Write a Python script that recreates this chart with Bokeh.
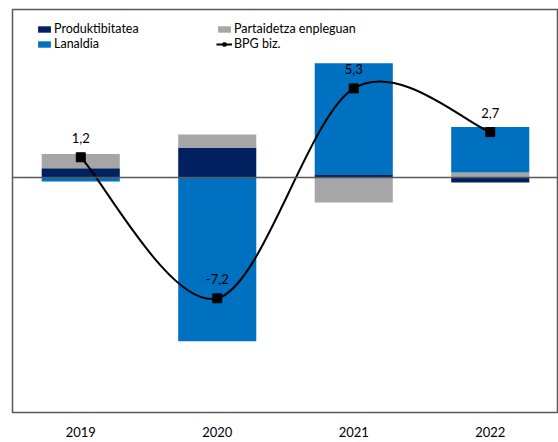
import numpy as np
from bokeh.plotting import figure
from bokeh.models import (ColumnDataSource, Legend, LegendItem, Span, FixedTicker, Range1d)
from bokeh.core.properties import value
from bokeh.embed import file_html
from bokeh.resources import INLINE

# ---- data ----
years = ["2019", "2020", "2021", "2022"]
produktibitatea = [0.55, 1.75, 0.15, -0.3]
partaidetza = [0.85, 0.8, -1.5, 0.3]
lanaldia = [-0.25, -9.75, 6.65, 2.7]
bpg = [1.2, -7.2, 5.3, 2.7]

series_names = ["Produktibitatea", "Partaidetza enpleguan", "Lanaldia"]
series_values = [produktibitatea, partaidetza, lanaldia]
colors = ["#002060", "#A6A6A6", "#0070C0"]

FONT = "Lato"

xpos = np.arange(len(years)) + 0.5

p = figure(width=558, height=442, output_backend="svg", toolbar_location=None,
           x_range=Range1d(0, len(years)), y_range=Range1d(-14, 10),
           min_border_left=12, min_border_right=0, min_border_top=9, min_border_bottom=30)
p.background_fill_color = "white"
p.border_fill_color = "white"
p.outline_line_color = "#595959"
p.outline_line_width = 1.5
p.xgrid.visible = False
p.ygrid.visible = False
p.yaxis.visible = False

# stacked bars (positive and negative stacked separately)
pos_cum = np.zeros(len(years))
neg_cum = np.zeros(len(years))
bar_renderers = []
for name, vals, col in zip(series_names, series_values, colors):
    v = np.array(vals, dtype=float)
    bottom = np.where(v >= 0, pos_cum, neg_cum)
    top = bottom + v
    pos_cum = np.where(v >= 0, top, pos_cum)
    neg_cum = np.where(v < 0, top, neg_cum)
    src = ColumnDataSource(dict(x=xpos, top=top, bottom=bottom))
    r = p.vbar(x="x", top="top", bottom="bottom", width=0.572, source=src,
               fill_color=col, line_color=None)
    bar_renderers.append(r)

# zero line
p.add_layout(Span(location=0, dimension="width", line_color="#595959", line_width=1.5))

# smoothed line via bezier segments (Excel-like smoothing)
P = np.column_stack([xpos, np.array(bpg, dtype=float)])
n = len(P)
x0s, y0s, x1s, y1s, cx0, cy0, cx1, cy1 = ([] for _ in range(8))
for i in range(n - 1):
    prev = P[i - 1] if i > 0 else P[i]
    nxt = P[i + 2] if i + 2 < n else P[i + 1]
    c0 = P[i] + (P[i + 1] - prev) / 6.0
    c1 = P[i + 1] - (nxt - P[i]) / 6.0
    x0s.append(P[i][0]); y0s.append(P[i][1])
    x1s.append(P[i + 1][0]); y1s.append(P[i + 1][1])
    cx0.append(c0[0]); cy0.append(c0[1])
    cx1.append(c1[0]); cy1.append(c1[1])
bez_src = ColumnDataSource(dict(x0=x0s, y0=y0s, x1=x1s, y1=y1s, cx0=cx0, cy0=cy0, cx1=cx1, cy1=cy1))
bez = p.bezier(x0="x0", y0="y0", x1="x1", y1="y1", cx0="cx0", cy0="cy0", cx1="cx1", cy1="cy1",
               source=bez_src, line_color="black", line_width=2)

pt_src = ColumnDataSource(dict(x=xpos, y=bpg, lbl=[f"{v:.1f}".replace(".", ",") for v in bpg]))
sc = p.scatter(x="x", y="y", source=pt_src, marker="square", size=9,
               fill_color="black", line_color="black")
p.text(x="x", y="y", text="lbl", source=pt_src, y_offset=-19, text_align="center",
       text_baseline="middle", text_font=value(FONT), text_font_size="13px", text_color="#000000")

# x axis
p.xaxis.ticker = FixedTicker(ticks=list(xpos))
p.xaxis.major_label_overrides = {float(x): y for x, y in zip(xpos, years)}
p.xaxis.axis_line_color = None
p.xaxis.major_tick_line_color = None
p.xaxis.minor_tick_line_color = None
p.xaxis.major_tick_out = 0
p.xaxis.major_tick_in = 0
p.xaxis.major_label_standoff = 14
p.xaxis.major_label_text_font = FONT
p.xaxis.major_label_text_font_size = "13px"
p.xaxis.major_label_text_color = "#000000"

# legends
def make_legend(items, loc):
    lg = Legend(items=items, location=loc, orientation="vertical",
                glyph_width=16, glyph_height=8, label_height=15, label_standoff=2,
                spacing=0, padding=0, margin=0, border_line_color=None,
                background_fill_alpha=0, label_text_font=FONT,
                label_text_font_size="12.5px", label_text_color="#000000")
    return lg

leg1 = make_legend([LegendItem(label=series_names[0], renderers=[bar_renderers[0]]),
                    LegendItem(label=series_names[2], renderers=[bar_renderers[2]])], (24, 361))
leg2 = make_legend([LegendItem(label=series_names[1], renderers=[bar_renderers[1]]),
                    LegendItem(label="BPG biz.", renderers=[bez, sc])], (204, 361))
p.add_layout(leg1)
p.add_layout(leg2)

open("out.html", "w").write(file_html(p, INLINE))
